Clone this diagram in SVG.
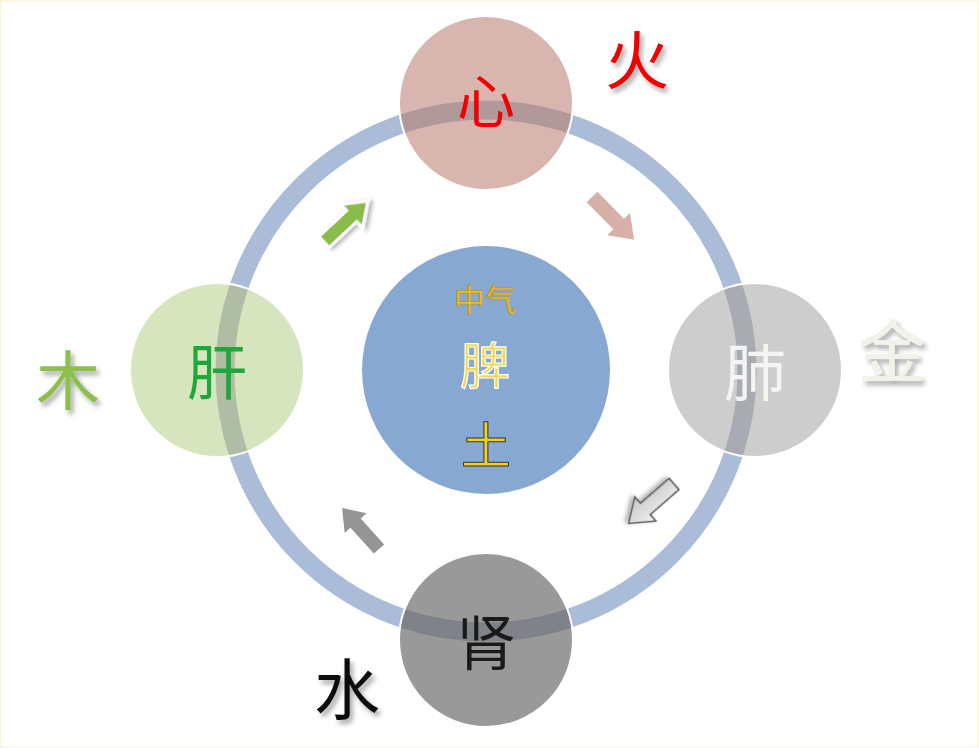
<svg xmlns="http://www.w3.org/2000/svg" width="979" height="748" viewBox="0 0 979 748">
<style>
.t{font-family:"Noto Sans CJK SC","Noto Sans CJK TC",sans-serif;text-anchor:middle;dominant-baseline:central;}
.node{stroke:#fff;stroke-width:2;}
</style>
<defs>
<filter id="sh" x="-30%" y="-30%" width="160%" height="160%">
<feDropShadow dx="3" dy="4" stdDeviation="2.5" flood-color="#000" flood-opacity="0.35"/>
</filter>
<filter id="ash" x="-30%" y="-30%" width="160%" height="160%">
<feDropShadow dx="2" dy="3" stdDeviation="2" flood-color="#000" flood-opacity="0.3"/>
</filter>
<linearGradient id="gg" x1="0" y1="0" x2="0" y2="1">
<stop offset="0" stop-color="#f2f2f2"/><stop offset="1" stop-color="#c4c4c4"/>
</linearGradient>
<path id="arr" d="M0,-7.5 L38,-7.5 L38,-16 L60,0 L38,16 L38,7.5 L0,7.5 Z"/>
<clipPath id="cc">
<circle cx="486" cy="103" r="86"/>
<circle cx="217" cy="370" r="86"/>
<circle cx="755" cy="370" r="86"/>
<circle cx="486" cy="640" r="86"/>
</clipPath>
</defs>
<rect x="0" y="0" width="979" height="748" fill="#fff"/>
<rect x="0.5" y="0.5" width="978" height="747" fill="none" stroke="#fdf5d5" stroke-width="2"/>

<g id="connectors">
<circle id="ring" cx="486" cy="371" r="261" fill="none" stroke="#abbcd8" stroke-width="19"/>
<use href="#arr" transform="translate(324,242) rotate(-43)" fill="#8bbb4a" stroke="#fff" stroke-width="3" filter="url(#ash)"/>
<use href="#arr" transform="translate(592,197) rotate(45.5)" fill="#d7b0a8"/>
<use href="#arr" transform="translate(674,484) rotate(139)" fill="url(#gg)" stroke="#555" stroke-width="1.5" filter="url(#ash)"/>
<use href="#arr" transform="translate(379,549) rotate(228) scale(0.92)" fill="#959595"/>
</g>

<g id="node-xin">
<circle class="node" cx="486" cy="103" r="87" fill="#d8b5ae"/>
</g>
<g id="node-gan">
<circle class="node" cx="217" cy="370" r="87" fill="#d6e5bd"/>
</g>
<g id="node-fei">
<circle class="node" cx="755" cy="370" r="87" fill="#cdcdcd"/>
</g>
<g id="node-shen">
<circle class="node" cx="486" cy="640" r="87" fill="#999999"/>
</g>
<circle cx="486" cy="371" r="261" fill="none" stroke="#2a3050" stroke-opacity="0.22" stroke-width="19" clip-path="url(#cc)"/>

<g id="node-pi">
<circle cx="486" cy="370" r="124" fill="#87a8d0"/>
<text class="t" x="485" y="297" font-size="31" fill="#f2c21c" stroke="#b08a10" stroke-width="0.6">中气</text>
<text class="t" x="485" y="362" font-size="50" fill="#f5d84a" stroke="#fff" stroke-width="1.2">脾</text>
<text class="t" x="486" y="442" font-size="50" fill="#f0d020" stroke="#333" stroke-width="1">土</text>
</g>

<g id="labels">
<text class="t" x="486" y="98" font-size="58" fill="#f00000">心</text>
<text class="t" x="217" y="368" font-size="60" fill="#1ea83a">肝</text>
<text class="t" x="755" y="369" font-size="62" fill="#f4f4f4">肺</text>
<text class="t" x="486" y="638" font-size="60" fill="#1a1a1a">肾</text>
<text class="t" x="637" y="56" font-size="64" fill="#f00000" filter="url(#sh)">火</text>
<text class="t" x="892" y="347" font-size="68" fill="#f3f2ea" filter="url(#sh)">金</text>
<text class="t" x="68" y="376" font-size="64" fill="#8cc04c" filter="url(#sh)">木</text>
<text class="t" x="347" y="685" font-size="66" fill="#111" filter="url(#sh)">水</text>
</g>
</svg>
